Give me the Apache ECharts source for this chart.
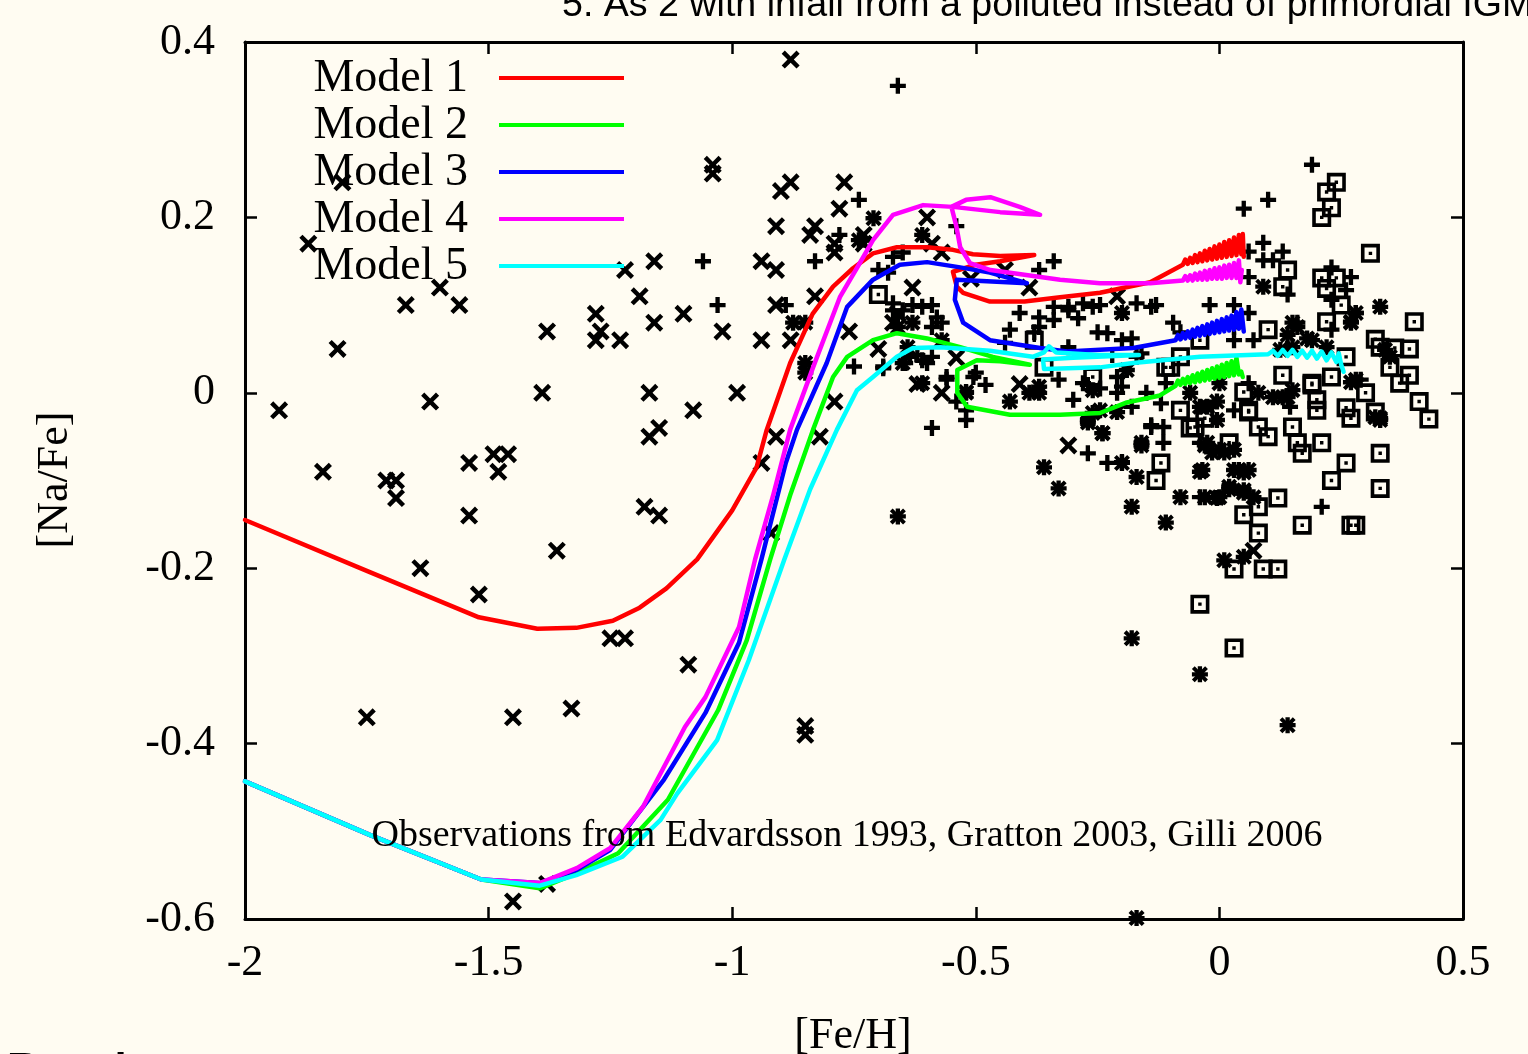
<!DOCTYPE html>
<html>
<head>
<meta charset="utf-8">
<script src="https://cdn.jsdelivr.net/npm/echarts@6/dist/echarts.min.js"></script>
<style>
html,body{margin:0;padding:0;background:#fffcf2;}
#chart{width:1528px;height:1054px;}
</style>
</head>
<body>
<div id="chart"></div>
<script>
// ---------- axis ticks ----------
const xTicks = [-2, -1.5, -1, -0.5, 0, 0.5];
const yTicks = [-0.6, -0.4, -0.2, 0, 0.2, 0.4];
const modelNames = ['Model 1', 'Model 2', 'Model 3', 'Model 4', 'Model 5'];

// ---------- model curves [Fe/H, Na/Fe] ----------
const model1 = [[-2.0,-0.145],[-1.75,-0.203],[-1.52,-0.256],[-1.40,-0.269],[-1.32,-0.268],[-1.245,-0.26],[-1.19,-0.245],[-1.135,-0.223],[-1.072,-0.19],[-1.0,-0.134],[-0.95,-0.085],[-0.929,-0.042],[-0.881,0.034],[-0.835,0.09],[-0.793,0.121],[-0.752,0.142],[-0.711,0.159],[-0.662,0.166],[-0.60,0.166],[-0.547,0.163],[-0.506,0.158],[-0.45,0.156],[-0.38,0.157],[-0.45,0.150],[-0.50,0.146],[-0.547,0.138],[-0.539,0.121],[-0.526,0.114],[-0.471,0.104],[-0.40,0.104],[-0.327,0.109],[-0.245,0.114],[-0.142,0.126],[-0.075,0.146],[-0.07,0.152],[-0.065,0.147],[-0.06,0.154],[-0.055,0.148],[-0.05,0.157],[-0.045,0.149],[-0.04,0.159],[-0.035,0.150],[-0.03,0.162],[-0.025,0.151],[-0.02,0.164],[-0.015,0.152],[-0.01,0.167],[-0.005,0.153],[0.0,0.169],[0.005,0.154],[0.01,0.172],[0.015,0.155],[0.02,0.174],[0.025,0.156],[0.03,0.177],[0.035,0.157],[0.04,0.180],[0.045,0.158],[0.048,0.181],[0.05,0.155]];
const model2 = [[-2.0,-0.443],[-1.744,-0.504],[-1.515,-0.555],[-1.395,-0.565],[-1.32,-0.548],[-1.234,-0.525],[-1.132,-0.464],[-1.029,-0.362],[-0.97,-0.282],[-0.922,-0.19],[-0.88,-0.115],[-0.834,-0.042],[-0.793,0.018],[-0.764,0.041],[-0.711,0.060],[-0.662,0.068],[-0.60,0.062],[-0.532,0.052],[-0.465,0.041],[-0.389,0.032],[-0.45,0.036],[-0.498,0.037],[-0.538,0.026],[-0.538,0.0],[-0.518,-0.016],[-0.43,-0.025],[-0.327,-0.025],[-0.245,-0.023],[-0.19,-0.011],[-0.122,-0.003],[-0.09,0.008],[-0.085,0.014],[-0.08,0.009],[-0.075,0.016],[-0.07,0.010],[-0.065,0.018],[-0.06,0.011],[-0.055,0.020],[-0.05,0.012],[-0.045,0.022],[-0.04,0.013],[-0.035,0.024],[-0.03,0.014],[-0.025,0.026],[-0.02,0.015],[-0.015,0.028],[-0.01,0.016],[-0.005,0.030],[0.0,0.017],[0.005,0.032],[0.01,0.018],[0.015,0.034],[0.02,0.019],[0.025,0.036],[0.03,0.020],[0.035,0.040],[0.04,0.021],[0.045,0.024],[0.048,0.018]];
const model3 = [[-2.0,-0.443],[-1.744,-0.504],[-1.515,-0.555],[-1.395,-0.559],[-1.319,-0.544],[-1.25,-0.521],[-1.14,-0.441],[-1.055,-0.365],[-0.986,-0.285],[-0.94,-0.19],[-0.89,-0.08],[-0.867,-0.042],[-0.806,0.034],[-0.764,0.098],[-0.711,0.129],[-0.656,0.146],[-0.60,0.149],[-0.532,0.143],[-0.471,0.137],[-0.395,0.125],[-0.539,0.129],[-0.543,0.106],[-0.526,0.080],[-0.471,0.060],[-0.368,0.051],[-0.313,0.047],[-0.177,0.051],[-0.09,0.060],[-0.085,0.066],[-0.08,0.061],[-0.075,0.068],[-0.07,0.062],[-0.065,0.070],[-0.06,0.063],[-0.055,0.072],[-0.05,0.064],[-0.045,0.074],[-0.04,0.065],[-0.035,0.076],[-0.03,0.066],[-0.025,0.078],[-0.02,0.067],[-0.015,0.080],[-0.01,0.068],[-0.005,0.082],[0.0,0.069],[0.005,0.084],[0.01,0.070],[0.015,0.086],[0.02,0.071],[0.025,0.088],[0.03,0.072],[0.035,0.092],[0.04,0.073],[0.045,0.095],[0.05,0.070]];
const model4 = [[-2.0,-0.443],[-1.744,-0.504],[-1.515,-0.555],[-1.395,-0.559],[-1.319,-0.542],[-1.25,-0.519],[-1.183,-0.472],[-1.097,-0.381],[-1.055,-0.347],[-0.986,-0.267],[-0.953,-0.19],[-0.915,-0.115],[-0.881,-0.042],[-0.834,0.029],[-0.779,0.109],[-0.738,0.148],[-0.711,0.174],[-0.670,0.203],[-0.608,0.214],[-0.547,0.212],[-0.45,0.206],[-0.368,0.203],[-0.41,0.212],[-0.47,0.223],[-0.52,0.220],[-0.55,0.212],[-0.54,0.19],[-0.532,0.166],[-0.512,0.148],[-0.47,0.140],[-0.327,0.129],[-0.245,0.125],[-0.142,0.125],[-0.075,0.128],[-0.07,0.133],[-0.065,0.128],[-0.06,0.134],[-0.055,0.128],[-0.05,0.136],[-0.045,0.129],[-0.04,0.137],[-0.035,0.129],[-0.03,0.139],[-0.025,0.129],[-0.02,0.140],[-0.015,0.130],[-0.01,0.142],[-0.005,0.130],[0.0,0.143],[0.005,0.130],[0.01,0.145],[0.015,0.131],[0.02,0.146],[0.025,0.131],[0.03,0.148],[0.035,0.131],[0.04,0.151],[0.043,0.126],[0.046,0.140]];
const model5 = [[-2.0,-0.443],[-1.744,-0.504],[-1.515,-0.555],[-1.395,-0.562],[-1.32,-0.55],[-1.225,-0.529],[-1.147,-0.487],[-1.113,-0.457],[-1.031,-0.396],[-0.966,-0.305],[-0.893,-0.19],[-0.84,-0.11],[-0.785,-0.042],[-0.744,0.003],[-0.711,0.018],[-0.662,0.041],[-0.629,0.051],[-0.573,0.052],[-0.471,0.048],[-0.383,0.041],[-0.36,0.046],[-0.35,0.053],[-0.335,0.046],[-0.25,0.043],[-0.165,0.043],[-0.30,0.040],[-0.362,0.038],[-0.36,0.027],[-0.245,0.029],[-0.177,0.034],[-0.101,0.038],[-0.04,0.041],[0.10,0.044],[0.11,0.048],[0.12,0.042],[0.13,0.049],[0.14,0.042],[0.15,0.049],[0.16,0.041],[0.17,0.048],[0.18,0.040],[0.19,0.048],[0.20,0.039],[0.21,0.047],[0.22,0.037],[0.23,0.046],[0.24,0.035],[0.245,0.045],[0.25,0.032],[0.255,0.024]];

// ---------- observations ----------
const crossData = [[-0.88,0.38],[-1.04,0.26],[-1.04,0.25],[-1.80,0.24],[-1.87,0.17],[-1.22,0.14],[-1.60,0.12],[-1.67,0.10],[-1.56,0.10],[-1.81,0.05],[-1.93,-0.02],[-1.62,-0.01],[-1.38,0.07],[-1.28,0.09],[-1.27,0.07],[-1.28,0.06],[-1.23,0.06],[-1.19,0.11],[-1.16,0.08],[-1.16,0.15],[-1.39,0.00],[-1.17,0.00],[-1.15,-0.04],[-1.17,-0.05],[-1.84,-0.09],[-1.71,-0.10],[-1.69,-0.10],[-1.69,-0.12],[-1.54,-0.08],[-1.49,-0.07],[-1.46,-0.07],[-1.48,-0.09],[-1.54,-0.14],[-1.36,-0.18],[-1.64,-0.20],[-1.52,-0.23],[-1.18,-0.13],[-1.15,-0.14],[-1.25,-0.28],[-1.22,-0.28],[-1.09,-0.31],[-1.75,-0.37],[-1.45,-0.37],[-1.33,-0.36],[-0.85,-0.38],[-0.85,-0.39],[-1.38,-0.56],[-1.45,-0.58],[-1.08,-0.02],[-0.99,0.00],[-1.10,0.09],[-1.02,0.07],[-0.94,0.06],[-0.91,0.10],[-0.91,0.14],[-0.94,0.15],[-0.91,0.19],[-0.90,0.23],[-0.88,0.24],[-0.77,0.24],[-0.78,0.21],[-0.83,0.19],[-0.84,0.18],[-0.79,0.17],[-0.79,0.16],[-0.73,0.18],[-0.73,0.17],[-0.83,0.11],[-0.88,0.06],[-0.76,0.07],[-0.70,0.05],[-0.79,-0.01],[-0.60,0.20],[-0.59,0.17],[-0.57,0.16],[-0.63,0.12],[-0.44,0.14],[-0.39,0.12],[-0.51,0.13],[-0.94,-0.08],[-0.91,-0.05],[-0.82,-0.05],[-0.92,-0.16],[-0.62,0.01],[-0.57,0.00],[-0.54,0.04],[-0.41,0.01],[-0.31,-0.06],[-0.21,0.11],[-0.66,0.09],[-0.67,0.08],[0.07,-0.18]];
const plusData = [[-0.66,0.35],[0.05,0.21],[0.10,0.22],[0.19,0.26],[-1.06,0.15],[-1.03,0.10],[-0.83,0.15],[-0.74,0.22],[-0.78,0.18],[-0.89,0.10],[-0.54,0.19],[-0.34,0.15],[-0.37,0.14],[-0.67,0.155],[-0.65,0.16],[-0.68,0.137],[-0.63,0.10],[-0.59,0.10],[-0.57,0.08],[-0.59,0.075],[-0.67,0.094],[-0.65,0.094],[-0.645,0.034],[-0.62,0.043],[-0.60,0.034],[-0.75,0.03],[-0.69,0.028],[-0.56,0.015],[-0.52,-0.02],[-0.505,0.018],[-0.48,0.009],[-0.59,-0.04],[-0.44,0.057],[-0.34,0.098],[-0.37,0.086],[-0.37,0.075],[-0.43,0.072],[-0.52,-0.031],[-0.54,-0.01],[-0.50,0.023],[-0.41,0.091],[-0.34,0.083],[-0.31,0.098],[-0.29,0.085],[-0.26,0.098],[-0.23,0.068],[-0.20,0.06],[-0.18,0.062],[-0.14,0.098],[-0.17,0.102],[-0.27,0.009],[-0.245,0.005],[-0.30,-0.008],[-0.33,0.015],[-0.14,-0.037],[-0.18,-0.016],[-0.21,0.0],[-0.22,0.043],[-0.17,0.041],[-0.27,-0.069],[-0.59,0.041],[-0.56,0.018],[-0.58,0.086],[-0.61,0.098],[-0.67,0.102],[-0.70,0.14],[-0.61,0.037],[-0.635,0.041],[-0.69,0.03],[0.09,0.171],[0.06,0.161],[0.09,0.151],[0.11,0.151],[0.13,0.161],[0.06,0.132],[0.14,0.112],[-0.02,0.10],[0.03,0.10],[0.06,0.091],[0.03,0.075],[0.16,0.08],[-0.095,0.08],[-0.08,0.069],[-0.13,0.10],[-0.245,0.10],[-0.28,0.102],[-0.31,0.094],[-0.25,0.069],[-0.16,0.045],[-0.38,0.069],[-0.31,0.052],[-0.21,0.018],[-0.11,0.011],[-0.15,0.0],[-0.20,0.007],[-0.28,0.011],[-0.12,-0.012],[0.03,0.06],[0.07,0.06],[0.145,-0.016],[0.23,0.072],[0.28,0.091],[0.29,0.015],[-0.14,-0.039],[-0.115,-0.039],[-0.115,-0.057],[-0.04,-0.057],[0.03,-0.02],[0.06,0.011],[0.27,0.132],[0.23,0.143],[0.26,0.117],[0.23,0.106],[0.21,-0.13],[-0.23,-0.08],[-0.20,-0.079],[-0.04,-0.119]];
const starData = [[-0.36,-0.085],[-0.33,-0.109],[-0.18,-0.13],[-0.11,-0.148],[-0.08,-0.119],[-0.03,-0.119],[0.0,-0.119],[0.01,-0.191],[0.05,-0.187],[0.05,-0.114],[0.02,-0.11],[0.05,-0.091],[0.03,-0.088],[-0.04,-0.09],[-0.015,-0.068],[0.01,-0.068],[-0.03,-0.06],[-0.17,-0.096],[-0.20,-0.08],[-0.16,-0.06],[0.33,-0.029],[-0.24,-0.046],[-0.26,-0.023],[-0.21,-0.022],[-0.43,-0.01],[-0.52,0.0],[-0.39,0.0],[0.09,0.121],[0.28,0.091],[0.27,0.081],[0.16,0.075],[0.18,0.062],[0.22,0.052],[0.15,0.052],[0.125,0.049],[0.34,0.049],[0.35,0.041],[0.27,0.012],[0.14,-0.005],[0.11,-0.005],[0.08,0.0],[-0.005,-0.01],[0.0,0.011],[-0.06,0.0],[-0.025,-0.016],[-0.005,-0.031],[-0.025,-0.057],[0.0,-0.065],[0.03,-0.065],[-0.035,-0.088],[0.04,-0.088],[0.06,-0.088],[0.02,-0.107],[0.05,-0.111],[-0.005,-0.12],[0.07,-0.119],[-0.16,-0.057],[0.33,-0.031],[-0.37,0.0],[-0.20,0.091],[-0.27,-0.031],[-0.71,0.199],[-0.61,0.18],[-0.74,0.174],[-0.875,0.08],[-0.85,0.08],[-0.66,0.075],[-0.63,0.08],[-0.57,0.06],[-0.65,0.034],[-0.64,0.052],[-0.61,0.011],[-0.37,0.007],[-0.52,0.001],[-0.85,0.034],[-0.85,0.023],[0.15,0.08],[0.14,0.066],[0.19,0.06],[-0.04,-0.016],[0.13,-0.005],[0.15,0.003],[0.28,0.015],[0.32,-0.028],[0.27,0.08],[0.33,0.098],[-0.19,0.026],[-0.26,0.003],[-0.245,-0.02],[-0.27,-0.034],[-0.24,-0.046],[-0.18,-0.28],[-0.04,-0.321],[0.14,-0.379],[-0.17,-0.599],[-0.66,-0.141]];
const boxData = [[0.31,0.159],[0.14,0.14],[0.13,0.121],[0.21,0.131],[0.24,0.131],[0.22,0.119],[0.25,0.10],[0.22,0.081],[0.40,0.081],[0.32,0.061],[0.33,0.052],[0.36,0.051],[0.39,0.05],[0.35,0.029],[0.39,0.02],[0.37,0.011],[0.41,-0.01],[0.43,-0.03],[0.26,0.041],[0.10,0.072],[0.13,0.02],[0.19,0.011],[0.23,0.018],[-0.08,0.041],[-0.11,0.029],[-0.04,0.06],[0.05,0.001],[0.06,-0.02],[0.20,-0.008],[0.20,-0.02],[0.26,-0.017],[0.27,-0.029],[0.30,0.0],[0.32,-0.022],[-0.08,-0.02],[-0.06,-0.04],[-0.03,-0.029],[0.08,-0.039],[0.10,-0.05],[0.15,-0.039],[0.16,-0.057],[0.17,-0.069],[0.21,-0.057],[0.02,-0.057],[0.33,-0.069],[0.33,-0.109],[0.26,-0.08],[0.23,-0.10],[0.12,-0.12],[0.08,-0.13],[0.05,-0.139],[0.08,-0.16],[0.17,-0.151],[0.27,-0.151],[0.28,-0.151],[-0.12,-0.08],[-0.13,-0.10],[0.03,-0.201],[0.09,-0.201],[0.12,-0.201],[-0.04,-0.241],[0.03,-0.291],[0.24,0.24],[0.22,0.229],[0.23,0.211],[0.21,0.20],[-0.38,0.06],[-0.70,0.112],[-0.36,0.029],[-0.26,0.018],[-0.10,0.029],[-0.05,-0.039],[0.19,0.009],[0.06,-0.022]];

// ---------- symbols ----------
const PLUS = 'path://M-1,-0.27H-0.27V-1H0.27V-0.27H1V0.27H0.27V1H-0.27V0.27H-1Z';
const XMARK = 'path://M-1,-0.65L-0.65,-1L0,-0.35L0.65,-1L1,-0.65L0.35,0L1,0.65L0.65,1L0,0.35L-0.65,1L-1,0.65L-0.35,0Z';
const BOX = 'path://M-1,-1H1V1H-1Z M-0.62,-0.62V0.62H0.62V-0.62Z M-0.18,-0.18H0.18V0.18H-0.18Z';
const colors = ['#ff0000', '#00ff00', '#0000ff', '#ff00ff', '#00ffff'];
const SERIF = 'Liberation Serif';

const chart = echarts.init(document.getElementById('chart'), null, {renderer: 'canvas'});

function scatter(name, data, symbol, size) {
  return {name, type: 'scatter', data, symbol, symbolSize: size, silent: true, z: 2,
    itemStyle: {color: '#000', opacity: 1}};
}
const models = [model1, model2, model3, model4, model5];
const lineSeries = models.map((d, i) => ({
  name: modelNames[i], type: 'line', data: d, showSymbol: false, symbol: 'none',
  silent: true, z: 3, clip: true,
  lineStyle: {color: colors[i], width: 4.5, join: 'round', cap: 'round'}
}));

const axisCommon = (pos, showLabel, isX) => ({
  type: 'value', position: pos,
  min: isX ? xTicks[0] : yTicks[0], max: isX ? xTicks[xTicks.length - 1] : yTicks[yTicks.length - 1],
  interval: isX ? 0.5 : 0.2,
  axisLine: {show: true, onZero: false, lineStyle: {color: '#000', width: 3}},
  axisTick: {show: true, inside: true, length: 12, lineStyle: {color: '#000', width: 2.5}},
  splitLine: {show: false},
  axisLabel: {show: showLabel, color: '#000', fontFamily: SERIF, fontSize: 44,
    margin: isX ? 22 : 30,
    formatter: v => String(+v.toFixed(2))}
});

const legendGraphics = [];
const rowY = [78, 125, 172, 219, 266];
modelNames.forEach((n, i) => {
  legendGraphics.push({type: 'text', x: 468, y: rowY[i] + 1, z: 5,
    style: {text: n, font: '46px "Liberation Serif"', fill: '#000', align: 'right', verticalAlign: 'middle', textAlign: 'right', textVerticalAlign: 'middle'}});
  legendGraphics.push({type: 'line', z: 5, shape: {x1: 499, y1: rowY[i], x2: 624, y2: rowY[i]},
    style: {stroke: colors[i], lineWidth: 4}});
});

chart.setOption({
  animation: false,
  backgroundColor: '#fffcf2',
  grid: {left: 245, right: 65, top: 42, bottom: 135, containLabel: false},
  xAxis: [axisCommon('bottom', true, true), axisCommon('top', false, true)],
  yAxis: [axisCommon('left', true, false), axisCommon('right', false, false)],
  series: [
    scatter('Edvardsson 1993', plusData, PLUS, 16),
    scatter('Gratton 2003', crossData, XMARK, 18),
    scatter('Gilli 2006', boxData, BOX, 19),
    scatter('star+', starData, PLUS, 16),
    scatter('starx', starData, XMARK, 16),
    ...lineSeries
  ],
  graphic: [
    ...legendGraphics,
    {type: 'text', x: 847, y: 836, z: 5,
      style: {text: 'Observations from Edvardsson 1993, Gratton 2003, Gilli 2006', font: '38px "Liberation Serif"', fill: '#000', align: 'center', verticalAlign: 'middle', textAlign: 'center', textVerticalAlign: 'middle'}},
    {type: 'text', x: 853, y: 1036, z: 5,
      style: {text: '[Fe/H]', font: '44px "Liberation Serif"', fill: '#000', align: 'center', verticalAlign: 'middle', textAlign: 'center', textVerticalAlign: 'middle'}},
    {type: 'text', x: 55, y: 480, rotation: Math.PI / 2, z: 5,
      style: {text: '[Na/Fe]', font: '44px "Liberation Serif"', fill: '#000', align: 'center', verticalAlign: 'middle', textAlign: 'center', textVerticalAlign: 'middle'}},
    {type: 'text', x: 562, y: 6, z: 5,
      style: {text: '5. As 2 with infall from a polluted instead of primordial IGM', font: '37.6px "Liberation Sans"', fill: '#000', align: 'left', verticalAlign: 'middle', textAlign: 'left', textVerticalAlign: 'middle'}},
    {type: 'text', x: 7, y: 1050, z: 5,
      style: {text: 'Results', font: 'bold 44px "Liberation Sans"', fill: '#000', align: 'left', verticalAlign: 'top', textAlign: 'left', textVerticalAlign: 'top'}}
  ]
});
</script>
</body>
</html>
